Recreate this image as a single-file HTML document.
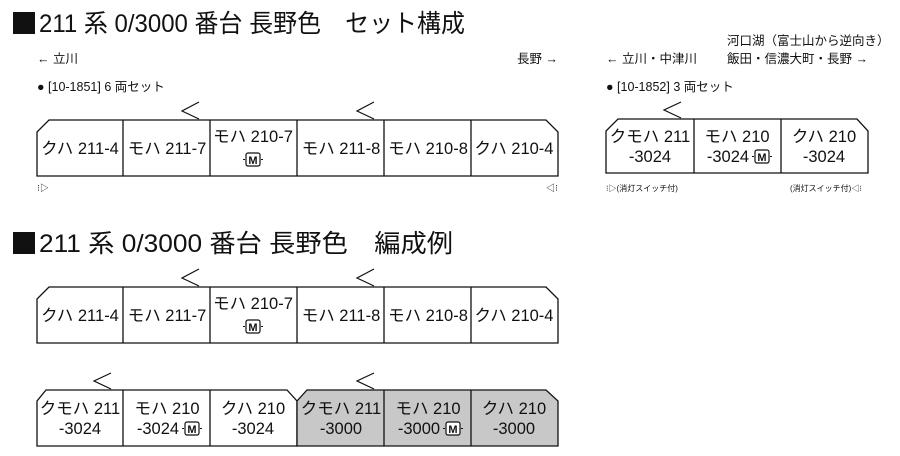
<!DOCTYPE html>
<html><head><meta charset="utf-8"><style>
html,body{margin:0;padding:0;background:#fff}
svg{display:block}
text{font-family:"Liberation Sans","Noto Sans CJK JP",sans-serif;fill:#111}
.c{text-anchor:middle;font-size:16.5px}
.s{font-size:12.5px}
.t{font-size:25px}
.box{fill:#fff;stroke:#111;stroke-width:1.3}
.g{fill:#c8c8c8;stroke:#111;stroke-width:1.3}
.ch{fill:none;stroke:#111;stroke-width:1.2}
.m{font-size:11px;font-weight:bold;text-anchor:middle;font-family:"Liberation Sans",sans-serif}
</style></head><body>
<svg width="900" height="456" viewBox="0 0 900 456" xmlns="http://www.w3.org/2000/svg">
<defs>
<g id="M"><rect x="-7" y="-7" width="14" height="13" rx="2" fill="#fff" stroke="#111" stroke-width="1.2"/><text class="m" x="0" y="4">M</text><line x1="-10" y1="-0.5" x2="-8" y2="-0.5" stroke="#111"/><line x1="8" y1="-0.5" x2="10" y2="-0.5" stroke="#111"/></g>
</defs>
<!-- titles -->
<rect x="13" y="12" width="22" height="22" fill="#111"/>
<text class="t" x="39" y="32" textLength="426" lengthAdjust="spacingAndGlyphs">211 系 0/3000 番台 長野色　セット構成</text>
<rect x="13" y="232" width="22" height="22" fill="#111"/>
<text class="t" x="39" y="252" textLength="414" lengthAdjust="spacingAndGlyphs">211 系 0/3000 番台 長野色　編成例</text>

<text class="s" x="37" y="63">← 立川</text>
<text class="s" x="517" y="63">長野 →</text>
<text class="s" x="37" y="91">● [10-1851] 6 両セット</text>

<!-- row1 -->
<path class="box" d="M49 120 H546 L558 132 V176 H37 V132 Z"/>
<g stroke="#111" stroke-width="1.3"><line x1="123" y1="120" x2="123" y2="176"/><line x1="210" y1="120" x2="210" y2="176"/><line x1="297" y1="120" x2="297" y2="176"/><line x1="384" y1="120" x2="384" y2="176"/><line x1="471" y1="120" x2="471" y2="176"/></g>
<polyline class="ch" points="199,102 182,111 199,119"/>
<polyline class="ch" points="374,102 357,111 374,119"/>
<text class="c" x="80" y="154">クハ 211-4</text>
<text class="c" x="167" y="154">モハ 211-7</text>
<text class="c" x="253" y="142">モハ 210-7</text>
<use href="#M" x="253" y="160"/>
<text class="c" x="341" y="154">モハ 211-8</text>
<text class="c" x="428" y="154">モハ 210-8</text>
<text class="c" x="514" y="154">クハ 210-4</text>
<text x="37" y="191" style="font-size:9px">⁝▷</text>
<text x="546" y="191" style="font-size:9px">◁⁝</text>

<!-- right set -->
<text class="s" x="727" y="45">河口湖（富士山から逆向き）</text>
<text class="s" x="606" y="63">← 立川・中津川</text>
<text class="s" x="727" y="63">飯田・信濃大町・長野 →</text>
<text class="s" x="606" y="91">● [10-1852] 3 両セット</text>
<path class="box" d="M618 119 H857 L868 131 V173 H606 V131 Z"/>
<g stroke="#111" stroke-width="1.3"><line x1="694" y1="119" x2="694" y2="173"/><line x1="781" y1="119" x2="781" y2="173"/></g>
<polyline class="ch" points="681,102 664,110 681,118"/>
<text class="c" x="650" y="142">クモハ 211</text>
<text class="c" x="650" y="162">-3024</text>
<text class="c" x="737" y="142">モハ 210</text>
<text class="c" x="728" y="162">-3024</text>
<use href="#M" x="762" y="157"/>
<text class="c" x="824" y="142">クハ 210</text>
<text class="c" x="824" y="162">-3024</text>
<text x="606" y="191" style="font-size:8px">⁝▷(消灯スイッチ付)</text>
<text x="790" y="191" style="font-size:8px">(消灯スイッチ付)◁⁝</text>

<!-- row2 -->
<path class="box" d="M49 287 H546 L558 299 V343 H37 V299 Z"/>
<g stroke="#111" stroke-width="1.3"><line x1="123" y1="287" x2="123" y2="343"/><line x1="210" y1="287" x2="210" y2="343"/><line x1="297" y1="287" x2="297" y2="343"/><line x1="384" y1="287" x2="384" y2="343"/><line x1="471" y1="287" x2="471" y2="343"/></g>
<polyline class="ch" points="199,269 182,278 199,286"/>
<polyline class="ch" points="374,269 357,278 374,286"/>
<text class="c" x="80" y="321">クハ 211-4</text>
<text class="c" x="167" y="321">モハ 211-7</text>
<text class="c" x="253" y="309">モハ 210-7</text>
<use href="#M" x="253" y="327"/>
<text class="c" x="341" y="321">モハ 211-8</text>
<text class="c" x="428" y="321">モハ 210-8</text>
<text class="c" x="514" y="321">クハ 210-4</text>

<!-- row3 -->
<path class="box" d="M46 390 H287 L297 401 V446 H37 V401 Z"/>
<path class="g" d="M307 390 H546 L558 401 V446 H297 V401 Z"/>
<g stroke="#111" stroke-width="1.3"><line x1="123" y1="390" x2="123" y2="446"/><line x1="210" y1="390" x2="210" y2="446"/><line x1="384" y1="390" x2="384" y2="446"/><line x1="471" y1="390" x2="471" y2="446"/></g>
<polyline class="ch" points="111,373 94,381 111,389"/>
<polyline class="ch" points="374,373 357,381 374,389"/>
<text class="c" x="80" y="414">クモハ 211</text>
<text class="c" x="80" y="434">-3024</text>
<text class="c" x="167" y="414">モハ 210</text>
<text class="c" x="158" y="434">-3024</text>
<use href="#M" x="192" y="429"/>
<text class="c" x="253" y="414">クハ 210</text>
<text class="c" x="253" y="434">-3024</text>
<text class="c" x="341" y="414">クモハ 211</text>
<text class="c" x="341" y="434">-3000</text>
<text class="c" x="428" y="414">モハ 210</text>
<text class="c" x="419" y="434">-3000</text>
<use href="#M" x="453" y="429"/>
<text class="c" x="514" y="414">クハ 210</text>
<text class="c" x="514" y="434">-3000</text>
</svg>
</body></html>
